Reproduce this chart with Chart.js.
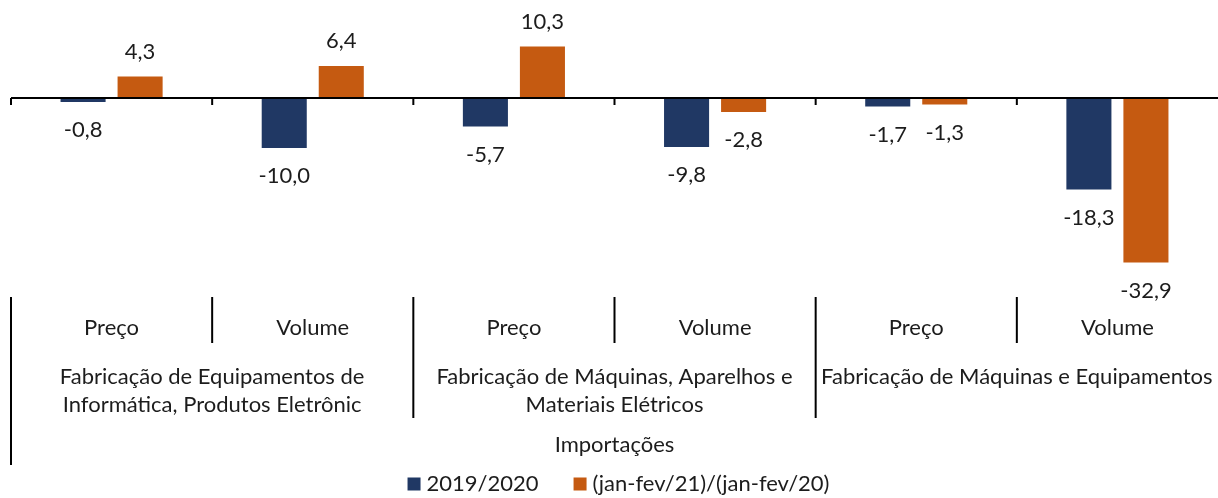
<!DOCTYPE html>
<html>
<head>
<meta charset="utf-8">
<script src="https://cdn.jsdelivr.net/npm/chart.js@4.4.1/dist/chart.umd.min.js"></script>
<style>
  html, body { margin: 0; padding: 0; background: #fff; }
  #wrap { width: 1218px; height: 498px; }
</style>
</head>
<body>
<div id="wrap"><canvas id="chart" width="1218" height="498"></canvas></div>
<script>
// ===== data =====
const CATEGORIES = ['Preço', 'Volume', 'Preço', 'Volume', 'Preço', 'Volume'];
const GROUPS = [
    ['Fabricação de Equipamentos de', 'Informática, Produtos Eletrônic'],
    ['Fabricação de Máquinas, Aparelhos e', 'Materiais Elétricos'],
    ['Fabricação de Máquinas e Equipamentos'],
];
const OUTER_LABEL = 'Importações';
const SERIES_NAMES = ['2019/2020', '(jan-fev/21)/(jan-fev/20)'];
const VALUES_2019_2020 = [-0.8, -10.0, -5.7, -9.8, -1.7, -18.3];
const VALUES_JAN_FEV = [4.3, 6.4, 10.3, -2.8, -1.3, -32.9];
const COLORS = ['#203864', '#C55A11'];

const FONT = 'Lato';
const TEXT = '#1c1c1c';
const fmt = v => v.toFixed(1).replace('.', ',');

// value labels above / below each bar
const barLabels = {
    id: 'barLabels',
    afterDatasetsDraw(chart) {
        const ctx = chart.ctx;
        ctx.save();
        ctx.font = `22px ${FONT}`;
        ctx.fillStyle = TEXT;
        ctx.textAlign = 'center';
        ctx.textBaseline = 'middle';
        chart.data.datasets.forEach((ds, i) => {
            chart.getDatasetMeta(i).data.forEach((bar, j) => {
                const v = ds.data[j];
                ctx.fillText(fmt(v), bar.x, v >= 0 ? bar.y - 25 : bar.y + 28);
            });
        });
        ctx.restore();
    }
};

// zero line, multi-level category axis and legend
const multiAxis = {
    id: 'multiAxis',
    afterDraw(chart) {
        const { ctx, chartArea } = chart;
        const xs = chart.scales.x, ys = chart.scales.y;
        const y0 = ys.getPixelForValue(0);
        const half = (xs.getPixelForValue(1) - xs.getPixelForValue(0)) / 2;
        const edge = i => xs.getPixelForValue(i) - half;
        const top = xs.top;

        ctx.save();
        ctx.strokeStyle = '#000';
        ctx.lineWidth = 2;
        ctx.beginPath();
        ctx.moveTo(chartArea.left, y0);
        ctx.lineTo(chart.width, y0);
        for (let i = 0; i < CATEGORIES.length; i++) {
            ctx.moveTo(edge(i), y0);
            ctx.lineTo(edge(i), y0 + 7);
        }
        ctx.stroke();

        // separators below
        ctx.beginPath();
        for (let i = 0; i < CATEGORIES.length; i++) {
            const len = i === 0 ? 168 : (i % 2 === 0 ? 121 : 46);
            ctx.moveTo(edge(i), top + 14);
            ctx.lineTo(edge(i), top + 14 + len);
        }
        ctx.stroke();

        ctx.font = `22px ${FONT}`;
        ctx.fillStyle = TEXT;
        ctx.textAlign = 'center';
        ctx.textBaseline = 'middle';
        CATEGORIES.forEach((c, i) => ctx.fillText(c, xs.getPixelForValue(i), top + 45));
        GROUPS.forEach((lines, g) => {
            const cx = (edge(2 * g) + edge(2 * g + 2)) / 2;
            lines.forEach((t, k) => ctx.fillText(t, cx, top + 94 + k * 28));
        });
        const mid = (chartArea.left + chartArea.right) / 2;
        ctx.fillText(OUTER_LABEL, mid, top + 162);

        // legend
        const box = 13, gapBox = 6, gapItem = 35;
        const widths = SERIES_NAMES.map(n => box + gapBox + ctx.measureText(n).width);
        const total = widths.reduce((a, b) => a + b, 0) + gapItem * (widths.length - 1);
        let lx = mid + 4 - total / 2;
        const ly = top + 201;
        ctx.textAlign = 'left';
        SERIES_NAMES.forEach((n, i) => {
            ctx.fillStyle = COLORS[i];
            ctx.fillRect(lx, ly - box / 2, box, box);
            ctx.fillStyle = TEXT;
            ctx.fillText(n, lx + box + gapBox, ly);
            lx += widths[i] + gapItem;
        });
        ctx.restore();
    }
};

Chart.defaults.font.family = FONT;

new Chart(document.getElementById('chart'), {
    type: 'bar',
    data: {
        labels: CATEGORIES,
        datasets: [
            { label: SERIES_NAMES[0], data: VALUES_2019_2020, backgroundColor: COLORS[0] },
            { label: SERIES_NAMES[1], data: VALUES_JAN_FEV, backgroundColor: COLORS[1] },
        ]
    },
    options: {
        responsive: false,
        devicePixelRatio: 1,
        animation: false,
        layout: { padding: { left: 11, top: 23, right: -3, bottom: 0 } },
        datasets: { bar: { categoryPercentage: 0.567, barPercentage: 0.79 } },
        plugins: { legend: { display: false }, tooltip: { enabled: false } },
        scales: {
            y: { display: false, min: -37, max: 15 },
            x: {
                grid: { display: false },
                border: { display: false },
                ticks: { display: false },
                afterFit: s => { s.height = 215; }
            }
        }
    },
    plugins: [barLabels, multiAxis]
});
</script>
</body>
</html>
